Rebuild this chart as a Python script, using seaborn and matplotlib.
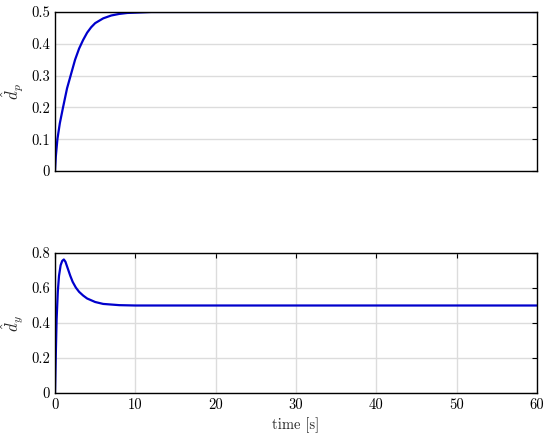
import matplotlib
matplotlib.use("Agg")
import matplotlib.pyplot as plt
import seaborn as sns

t_p = [0, 0.1, 0.3, 0.6, 1.0, 1.5, 2.0, 2.5, 3.0, 3.5, 4.0, 4.5, 5.0, 6.0, 7.0, 8.0, 9.0, 10.0, 12.0, 14.0, 60.0]
d_p = [0, 0.045, 0.1, 0.15, 0.2, 0.26, 0.305, 0.35, 0.385, 0.412, 0.435, 0.452, 0.465, 0.48, 0.489, 0.494, 0.497, 0.498, 0.5, 0.5, 0.5]

t_y = [0, 0.1, 0.2, 0.35, 0.5, 0.7, 0.9, 1.1, 1.3, 1.6, 1.9, 2.2, 2.6, 3.0, 3.5, 4.0, 5.0, 6.0, 8.0, 10.0, 14.0, 60.0]
d_y = [0, 0.22, 0.42, 0.58, 0.67, 0.73, 0.755, 0.763, 0.75, 0.71, 0.67, 0.635, 0.602, 0.578, 0.557, 0.54, 0.52, 0.509, 0.502, 0.5, 0.5, 0.5]

x_ticks = [0, 10, 20, 30, 40, 50, 60]
yp_ticks = [0, 0.1, 0.2, 0.3, 0.4, 0.5]
yy_ticks = [0, 0.2, 0.4, 0.6, 0.8]

sns.set_style("white")
plt.rcParams['font.family'] = ['cmr10', 'DejaVu Serif']
plt.rcParams['mathtext.fontset'] = 'cm'
plt.rcParams['axes.unicode_minus'] = False

line_col = "#0000cc"
grid_col = "#dcdcdc"

fig = plt.figure(figsize=(5.5, 4.4), dpi=100)
ax1 = fig.add_axes([55 / 550, 1 - 171 / 440, 482 / 550, 159 / 440])
ax2 = fig.add_axes([55 / 550, 1 - 393 / 440, 482 / 550, 140 / 440])

sns.lineplot(x=t_p, y=d_p, ax=ax1, color=line_col, linewidth=1.6)
sns.lineplot(x=t_y, y=d_y, ax=ax2, color=line_col, linewidth=1.6)

for ax in (ax1, ax2):
    ax.set_xlim(0, 60)
    for s in ax.spines.values():
        s.set_color("black")
        s.set_linewidth(1.0)
    ax.tick_params(direction="in", length=3.5, width=0.8, labelsize=10.5,
                   top=True, right=True, colors="black")
    ax.set_axisbelow(True)

ax1.set_ylim(0, 0.5)
ax1.set_yticks(yp_ticks)
ax1.set_yticklabels([f"{v:g}" for v in yp_ticks])
ax1.set_xticks([])
ax1.grid(axis="y", color=grid_col, linewidth=1.0)
ax1.set_ylabel(r"$\hat{d}_p$", fontsize=12)

ax2.set_ylim(0, 0.8)
ax2.set_yticks(yy_ticks)
ax2.set_yticklabels([f"{v:g}" for v in yy_ticks])
ax2.set_xticks(x_ticks)
ax2.set_xticklabels([str(v) for v in x_ticks])
ax2.grid(True, color=grid_col, linewidth=1.0)
ax2.set_ylabel(r"$\hat{d}_y$", fontsize=12)
ax2.set_xlabel("time [s]", fontsize=10.5)

fig.savefig("out.png", dpi=100)
